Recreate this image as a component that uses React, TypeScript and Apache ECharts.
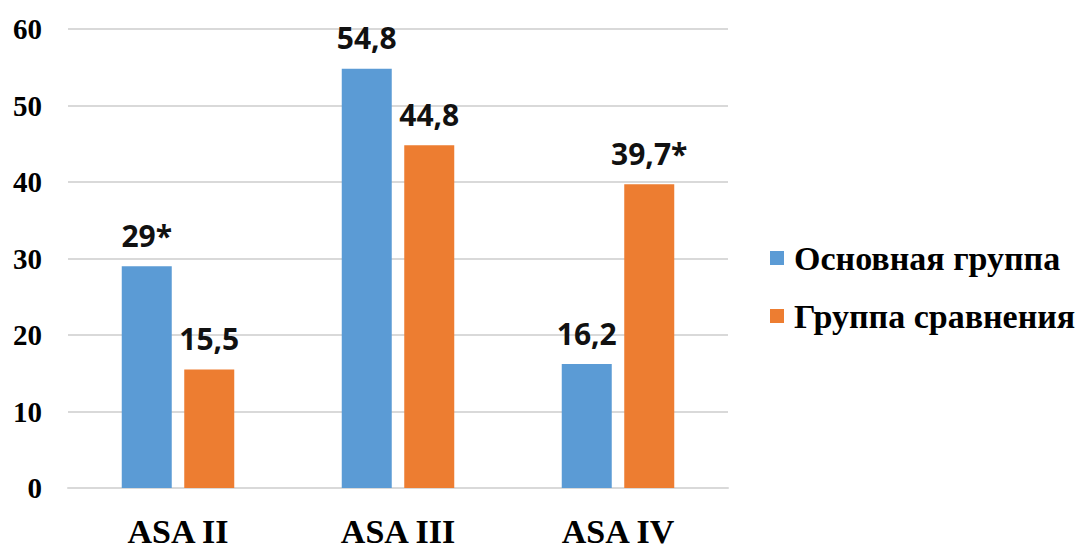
import React, { useEffect, useRef } from "react";
import * as echarts from "echarts";

const categories = ["ASA II", "ASA III", "ASA IV"];
const seriesNames = ["Основная группа", "Группа сравнения"];
const mainValues = [29, 54.8, 16.2];
const compareValues = [15.5, 44.8, 39.7];
// statistically significant differences are marked with an asterisk
const mainSignificant = [true, false, false];
const compareSignificant = [false, false, true];
const yTicks = { min: 0, max: 60, interval: 10 };

const BLUE = "#5B9BD5";
const ORANGE = "#ED7D31";
const SERIF = "'Liberation Serif', 'Times New Roman', serif";

const fmt = (v: number, sig: boolean) =>
  String(v).replace(".", ",") + (sig ? "*" : "");

export default function App() {
  const ref = useRef<HTMLDivElement>(null);

  useEffect(() => {
    if (!ref.current) return;
    const chart = echarts.init(ref.current, undefined, { renderer: "svg" });

    const labelStyle = {
      show: true,
      position: "top" as const,
      distance: 16,
      fontFamily: "'Open Sans', sans-serif",
      fontWeight: "bold" as const,
      fontSize: 30,
      color: "#111",
    };

    chart.setOption({
      animation: false,
      backgroundColor: "#fff",
      grid: { left: 68, right: 364, top: 29, bottom: 56, containLabel: false },
      legend: {
        orient: "vertical",
        left: 765,
        top: 236,
        itemWidth: 14,
        itemHeight: 14,
        itemGap: 24,
        icon: "rect",
        textStyle: {
          fontFamily: SERIF,
          fontWeight: "bold",
          fontSize: 34,
          color: "#000",
          padding: [0, 0, 0, 5],
        },
        data: seriesNames,
      },
      xAxis: {
        type: "category",
        data: categories,
        axisTick: { show: false },
        axisLine: { lineStyle: { color: "#d9d9d9", width: 2 } },
        axisLabel: {
          fontFamily: SERIF,
          fontWeight: "bold",
          fontSize: 34,
          color: "#000",
          margin: 26,
        },
      },
      yAxis: {
        type: "value",
        min: yTicks.min,
        max: yTicks.max,
        interval: yTicks.interval,
        axisLine: { show: false },
        axisTick: { show: false },
        splitLine: { lineStyle: { color: "#d9d9d9", width: 2 } },
        axisLabel: {
          fontFamily: SERIF,
          fontWeight: "bold",
          fontSize: 29,
          color: "#000",
          margin: 26,
        },
      },
      series: [
        {
          name: seriesNames[0],
          type: "bar",
          barWidth: 50,
          barGap: "25%",
          itemStyle: { color: BLUE },
          label: {
            ...labelStyle,
            formatter: (p: any) => fmt(mainValues[p.dataIndex], mainSignificant[p.dataIndex]),
          },
          data: mainValues,
        },
        {
          name: seriesNames[1],
          type: "bar",
          barWidth: 50,
          barGap: "25%",
          itemStyle: { color: ORANGE },
          label: {
            ...labelStyle,
            formatter: (p: any) =>
              fmt(compareValues[p.dataIndex], compareSignificant[p.dataIndex]),
          },
          data: compareValues,
        },
      ],
    });

    return () => chart.dispose();
  }, []);

  return (
    <div
      ref={ref}
      style={{ position: "absolute", left: 0, top: 0, width: 1092, height: 548 }}
    />
  );
}
